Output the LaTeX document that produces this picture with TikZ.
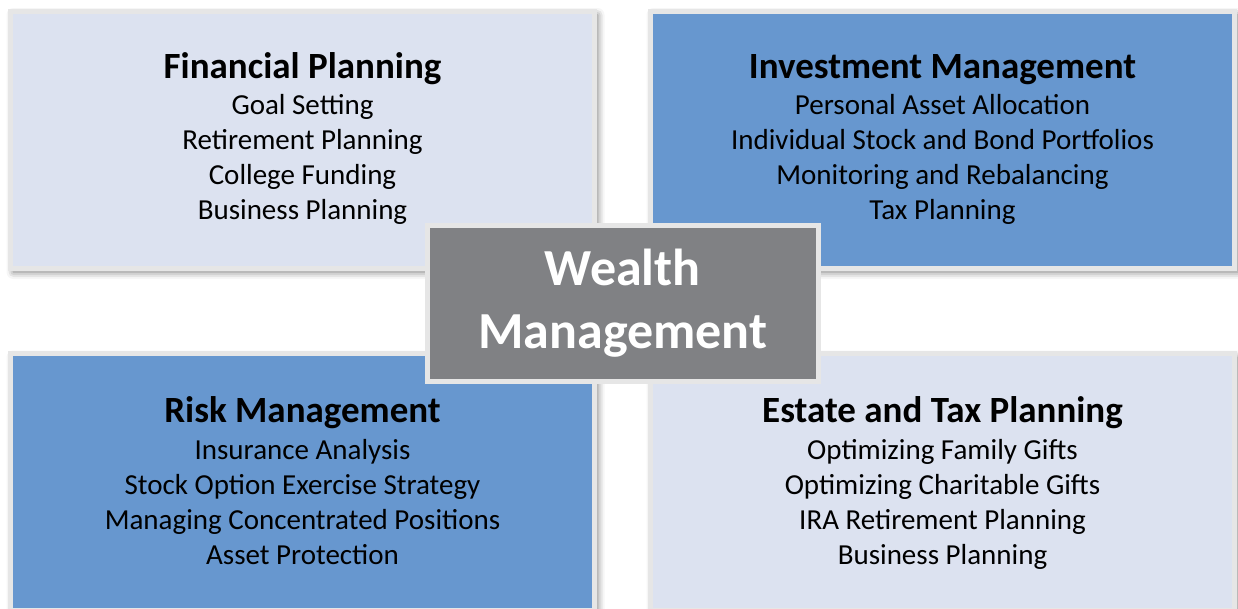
\documentclass[tikz,border=0pt]{standalone}
\usepackage{fontspec}
\setmainfont{Carlito}
\usetikzlibrary{shadows.blur}

\definecolor{palefill}{RGB}{220,226,240}
\definecolor{bluefill}{RGB}{103,151,207}
\definecolor{edgegray}{RGB}{230,230,230}
\definecolor{hubgray}{RGB}{128,129,132}

\tikzset{
  panel/.style={rectangle, draw=edgegray, line width=5pt, inner sep=0pt,
    minimum width=584pt, minimum height=257pt,
    blur shadow={shadow xshift=3pt, shadow yshift=-4pt, shadow blur radius=7pt, shadow opacity=55}},
  panelhead/.style={anchor=base, font=\bfseries\fontsize{37}{44}\selectfont, inner sep=0pt},
  panelitem/.style={anchor=base, font=\fontsize{29}{35}\selectfont, inner sep=0pt},
  hub/.style={rectangle, draw=edgegray, fill=hubgray, line width=5pt, inner sep=0pt,
    minimum width=391.5pt, minimum height=156pt, text=white, align=center,
    font=\bfseries\fontsize{52}{63}\selectfont}
}

\begin{document}
\begin{tikzpicture}[x=1pt, y=-1pt]
\useasboundingbox (0,0) rectangle (1238,608);
\clip (0,0) rectangle (1238,608);

% four quadrant panels
\node[panel, fill=palefill] (fin) at (302.5,139.5) {};
\node[panel, fill=bluefill] (inv) at (942.5,139.5) {};
\node[panel, fill=bluefill] (risk) at (302.5,482) {};
\node[panel, fill=palefill] (est) at (942.5,482) {};

% panel headings
\node[panelhead] (finhead)  at (302.5,78)  {Financial Planning};
\node[panelhead] (invhead)  at (942.5,78)  {Investment Management};
\node[panelhead] (riskhead) at (302.5,422) {Risk Management};
\node[panelhead] (esthead)  at (942.5,422) {Estate and Tax Planning};

% panel items
\foreach \t [count=\i] in {Goal Setting, Retirement Planning, College Funding, Business Planning}
  \node[panelitem] (fin\i) at (302.5,79+35*\i) {\t};
\foreach \t [count=\i] in {Personal Asset Allocation, Individual Stock and Bond Portfolios,
    Monitoring and Rebalancing, Tax Planning}
  \node[panelitem] (inv\i) at (942.5,79+35*\i) {\t};
\foreach \t [count=\i] in {Insurance Analysis, Stock Option Exercise Strategy,
    Managing Concentrated Positions, Asset Protection}
  \node[panelitem] (risk\i) at (302.5,424+35*\i) {\t};
\foreach \t [count=\i] in {Optimizing Family Gifts, Optimizing Charitable Gifts,
    IRA Retirement Planning, Business Planning}
  \node[panelitem] (est\i) at (942.5,424+35*\i) {\t};

% central hub
\node[hub] (wm) at (622.75,303) {Wealth\\Management};
\end{tikzpicture}
\end{document}
